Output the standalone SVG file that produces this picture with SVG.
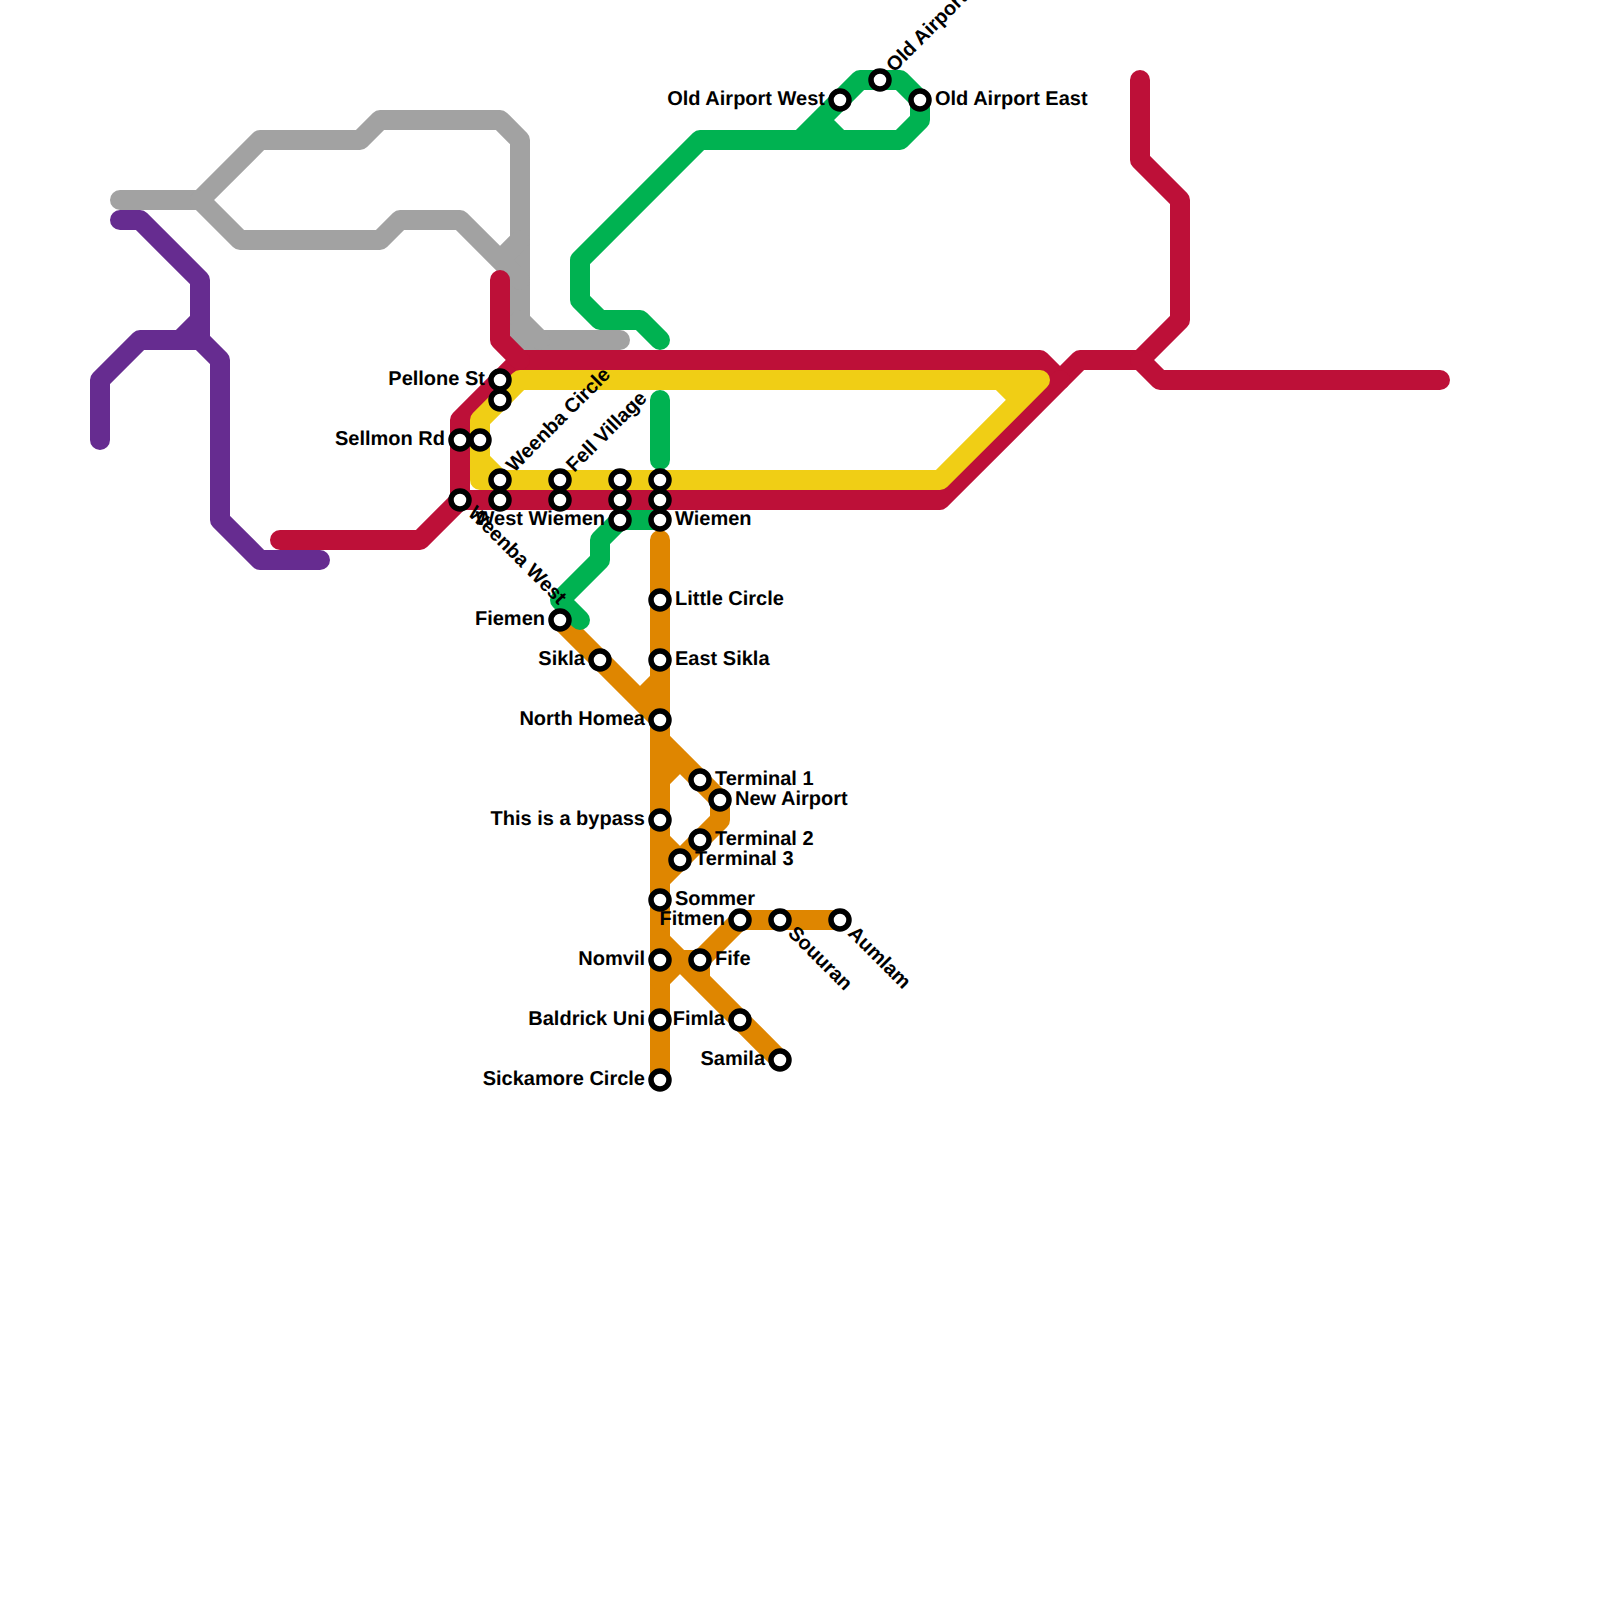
<svg xmlns="http://www.w3.org/2000/svg" width="1600" height="1600" viewBox="0 0 1600 1600">
<style>
.l{fill:none;stroke-width:20;stroke-linecap:round;stroke-linejoin:round}
.gy{stroke:#a2a2a2}.pu{stroke:#662c90}.re{stroke:#bd1038}.ye{stroke:#f0ce15}.or{stroke:#df8600}.gr{stroke:#00b251}
.s{fill:#fff;stroke:#000;stroke-width:5.5}
text{font-family:"Liberation Sans",Arial,sans-serif;font-weight:700;font-size:20px;fill:#000;text-rendering:geometricPrecision}
.e{text-anchor:end}
</style>
<rect width="1600" height="1600" fill="#fff"/>
<g id="connectors">
<path class="l gy" d="M120 200H200L260 140H360L380 120H500L520 140V340H620"/>
<path class="l gy" d="M200 200L240 240H380L400 220H460L520 280M500 260L520 240M520 320L540 340"/>
<path class="l pu" d="M120 220H140L200 280V340M100 440V380L140 340H200L220 360V520L260 560H320M180 340L200 320"/>
<path class="l re" d="M280 540H420L460 500V420L520 360H1040L1060 380L1080 360H1140L1180 320V200L1140 160V80"/>
<path class="l re" d="M500 280V340L520 360M460 500H940L1060 380M1140 360L1160 380H1440"/>
<path class="l ye" d="M1040 380H520L480 420V480H940L1040 380M1000 380L1020 400M480 460L500 480"/>
<path class="l or" d="M660 540V1080M560 620L660 720M640 700L660 680M660 740L720 800V820L660 880M660 780L680 760M660 840L680 860"/>
<path class="l or" d="M660 940L780 1060M660 960H700L740 920H840M660 980L680 960M700 960V980"/>
<path class="l gr" d="M660 340L640 320H600L580 300V260L700 140H900L920 120V100L900 80H860L800 140M820 120L840 140"/>
<path class="l gr" d="M660 400V460M660 520H620L600 540V560L560 600L580 620"/>
</g>
<g id="n-pellone"><circle class="s" cx="500" cy="380" r="9"/><text class="e" x="485" y="385">Pellone St</text></g>
<g id="n-pellone2"><circle class="s" cx="500" cy="400" r="9"/></g>
<g id="n-sellmon"><circle class="s" cx="460" cy="440" r="9"/><text class="e" x="445" y="445">Sellmon Rd</text></g>
<g id="n-sellmon2"><circle class="s" cx="480" cy="440" r="9"/></g>
<g id="n-weenba-circle"><circle class="s" cx="500" cy="480" r="9"/><text transform="translate(500 480) rotate(-45)" x="15" y="5">Weenba Circle</text></g>
<g id="n-weenba-circle2"><circle class="s" cx="500" cy="500" r="9"/></g>
<g id="n-fell"><circle class="s" cx="560" cy="480" r="9"/><text transform="translate(560 480) rotate(-45)" x="15" y="5">Fell Village</text></g>
<g id="n-fell2"><circle class="s" cx="560" cy="500" r="9"/></g>
<g id="n-ww1"><circle class="s" cx="620" cy="480" r="9"/></g>
<g id="n-ww2"><circle class="s" cx="620" cy="500" r="9"/></g>
<g id="n-west-wiemen"><circle class="s" cx="620" cy="520" r="9"/><text class="e" x="605" y="525">West Wiemen</text></g>
<g id="n-w1"><circle class="s" cx="660" cy="480" r="9"/></g>
<g id="n-w2"><circle class="s" cx="660" cy="500" r="9"/></g>
<g id="n-wiemen"><circle class="s" cx="660" cy="520" r="9"/><text x="675" y="525">Wiemen</text></g>
<g id="n-weenba-west"><circle class="s" cx="460" cy="500" r="9"/><text transform="translate(460 500) rotate(45)" x="15" y="5">Weenba West</text></g>
<g id="n-little"><circle class="s" cx="660" cy="600" r="9"/><text x="675" y="605">Little Circle</text></g>
<g id="n-east-sikla"><circle class="s" cx="660" cy="660" r="9"/><text x="675" y="665">East Sikla</text></g>
<g id="n-north-homea"><circle class="s" cx="660" cy="720" r="9"/><text class="e" x="645" y="725">North Homea</text></g>
<g id="n-fiemen"><circle class="s" cx="560" cy="620" r="9"/><text class="e" x="545" y="625">Fiemen</text></g>
<g id="n-sikla"><circle class="s" cx="600" cy="660" r="9"/><text class="e" x="585" y="665">Sikla</text></g>
<g id="n-t1"><circle class="s" cx="700" cy="780" r="9"/><text x="715" y="785">Terminal 1</text></g>
<g id="n-new-airport"><circle class="s" cx="720" cy="800" r="9"/><text x="735" y="805">New Airport</text></g>
<g id="n-bypass"><circle class="s" cx="660" cy="820" r="9"/><text class="e" x="645" y="825">This is a bypass</text></g>
<g id="n-t3"><circle class="s" cx="680" cy="860" r="9"/><text x="695" y="865">Terminal 3</text></g>
<g id="n-t2"><circle class="s" cx="700" cy="840" r="9"/><text x="715" y="845">Terminal 2</text></g>
<g id="n-sommer"><circle class="s" cx="660" cy="900" r="9"/><text x="675" y="905">Sommer</text></g>
<g id="n-fitmen"><circle class="s" cx="740" cy="920" r="9"/><text class="e" x="725" y="925">Fitmen</text></g>
<g id="n-souuran"><circle class="s" cx="780" cy="920" r="9"/><text transform="translate(780 920) rotate(45)" x="15" y="5">Souuran</text></g>
<g id="n-aumlam"><circle class="s" cx="840" cy="920" r="9"/><text transform="translate(840 920) rotate(45)" x="15" y="5">Aumlam</text></g>
<g id="n-nomvil"><circle class="s" cx="660" cy="960" r="9"/><text class="e" x="645" y="965">Nomvil</text></g>
<g id="n-fife"><circle class="s" cx="700" cy="960" r="9"/><text x="715" y="965">Fife</text></g>
<g id="n-baldrick"><circle class="s" cx="660" cy="1020" r="9"/><text class="e" x="645" y="1025">Baldrick Uni</text></g>
<g id="n-fimla"><circle class="s" cx="740" cy="1020" r="9"/><text class="e" x="725" y="1025">Fimla</text></g>
<g id="n-samila"><circle class="s" cx="780" cy="1060" r="9"/><text class="e" x="765" y="1065">Samila</text></g>
<g id="n-sickamore"><circle class="s" cx="660" cy="1080" r="9"/><text class="e" x="645" y="1085">Sickamore Circle</text></g>
<g id="n-oa-west"><circle class="s" cx="840" cy="100" r="9"/><text class="e" x="825" y="105">Old Airport West</text></g>
<g id="n-oa"><circle class="s" cx="880" cy="80" r="9"/><text transform="translate(880 80) rotate(-45)" x="15" y="5">Old Airport</text></g>
<g id="n-oa-east"><circle class="s" cx="920" cy="100" r="9"/><text x="935" y="105">Old Airport East</text></g>
</svg>
